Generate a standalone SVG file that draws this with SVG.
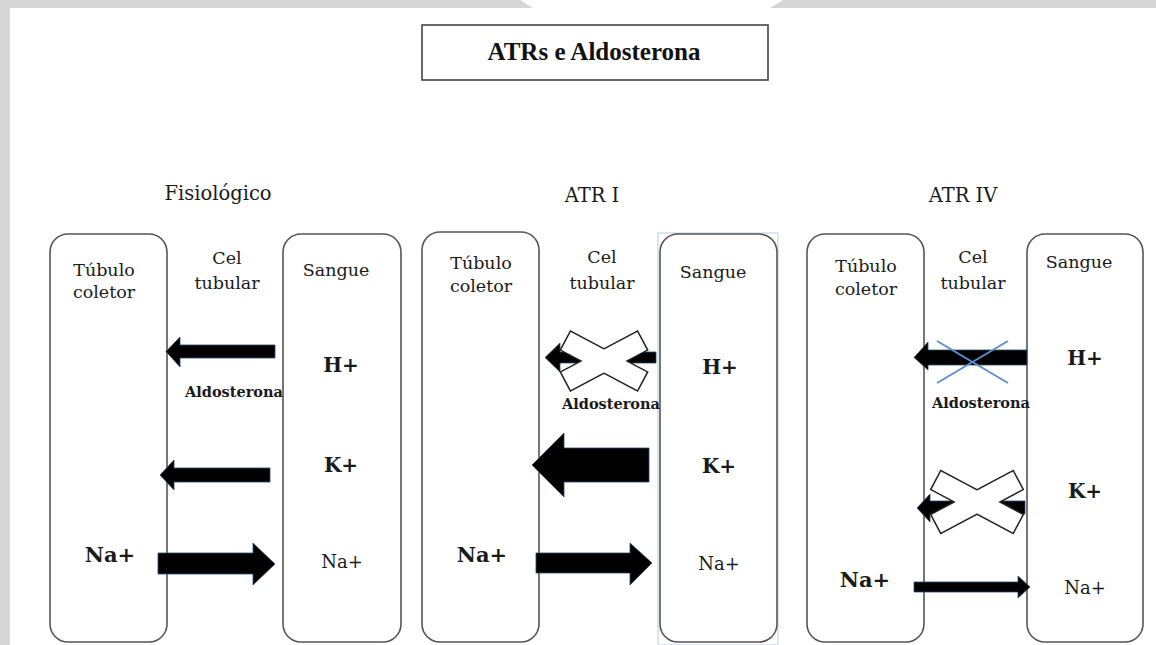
<svg xmlns="http://www.w3.org/2000/svg" width="1156" height="645" viewBox="0 0 1156 645">
<defs>
<style>
.frame{fill:#d6d6d6}
.box{fill:#fff;stroke:#555;stroke-width:1.6}
.t{font-family:"DejaVu Serif",serif;fill:#1a1a1a}
.lbl{font-size:17.5px;text-anchor:middle}
.head{font-size:19.5px;text-anchor:middle}
.ion{font-size:20px;font-weight:bold;text-anchor:middle}
.nab{font-size:21px;font-weight:bold;text-anchor:middle}
.nar{font-size:18px;text-anchor:middle}
.ald{font-size:14.5px;font-weight:bold;text-anchor:middle}
.arr{fill:#000;stroke:#2a4a70;stroke-width:0.8}
.xo{fill:#fff;stroke:#222;stroke-width:3}
.xi{fill:#fff}
.bx{stroke:#5b8fd0;stroke-width:2}
</style>
</defs>
<rect width="1156" height="645" fill="#fff"/>
<path class="frame" d="M0 0H520L533 8H770L783 0H1156V8H10V645H0Z"/>

<g id="title">
<rect x="422" y="25" width="346" height="55" fill="#fff" stroke="#444" stroke-width="1.6"/>
<text x="594" y="60" font-family="Liberation Serif, serif" font-size="25" font-weight="bold" fill="#111" text-anchor="middle">ATRs e Aldosterona</text>
</g>

<!-- Panel 1 -->
<g id="fisiologico">
<text class="t head" x="218" y="200">Fisiológico</text>
</g>
<g id="p1-tubulo">
<rect class="box" x="50" y="234" width="117" height="408" rx="18"/>
<text class="t lbl" x="104" y="276">Túbulo</text>
<text class="t lbl" x="104" y="298">coletor</text>
<text class="t nab" x="110" y="562">Na+</text>
</g>
<g id="p1-cel">
<text class="t lbl" x="227" y="264">Cel</text>
<text class="t lbl" x="227" y="289">tubular</text>
<text class="t ald" x="234" y="397">Aldosterona</text>
</g>
<g id="p1-sangue">
<rect class="box" x="283" y="234" width="118" height="408" rx="18"/>
<text class="t lbl" x="336" y="276">Sangue</text>
<text class="t ion" x="341" y="372">H+</text>
<text class="t ion" x="341" y="472">K+</text>
<text class="t nar" x="342" y="568">Na+</text>
</g>

<!-- Panel 2 -->
<g id="atr1">
<text class="t head" x="592" y="202">ATR I</text>
</g>
<g id="p2-tubulo">
<rect class="box" x="422" y="232" width="117" height="410" rx="18"/>
<text class="t lbl" x="481" y="269">Túbulo</text>
<text class="t lbl" x="481" y="292">coletor</text>
<text class="t nab" x="482" y="562">Na+</text>
</g>
<g id="p2-cel">
<text class="t lbl" x="602" y="263">Cel</text>
<text class="t lbl" x="602" y="289">tubular</text>
</g>
<g id="p2-sangue">
<rect x="658" y="233" width="120" height="412" fill="none" stroke="#b8cde8" stroke-width="1"/>
<rect class="box" x="660" y="234" width="117" height="408" rx="18"/>
<text class="t lbl" x="713" y="278">Sangue</text>
<text class="t ion" x="720" y="374">H+</text>
<text class="t ion" x="719" y="473">K+</text>
<text class="t nar" x="719" y="570">Na+</text>
</g>

<!-- Panel 3 -->
<g id="atr4">
<text class="t head" x="963" y="202">ATR IV</text>
</g>
<g id="p3-tubulo">
<rect class="box" x="807" y="234" width="117" height="408" rx="18"/>
<text class="t lbl" x="866" y="272">Túbulo</text>
<text class="t lbl" x="866" y="295">coletor</text>
<text class="t nab" x="865" y="587">Na+</text>
</g>
<g id="p3-cel">
<text class="t lbl" x="973" y="263">Cel</text>
<text class="t lbl" x="973" y="289">tubular</text>
</g>
<g id="p3-sangue">
<rect class="box" x="1027" y="234" width="116" height="408" rx="18"/>
<text class="t lbl" x="1079" y="268">Sangue</text>
<text class="t ion" x="1085" y="365">H+</text>
<text class="t ion" x="1085" y="498">K+</text>
<text class="t nar" x="1085" y="594">Na+</text>
</g>

<g id="connectors">
<!-- Panel 1 -->
<polygon class="arr" points="275,345 180,345 180,337 166,351.5 180,367 180,358 275,358"/>
<polygon class="arr" points="270,468 174,468 174,460 160,475 174,490 174,482 270,482"/>
<polygon class="arr" points="158,553 253,553 253,543 275,564 253,585 253,574 158,574"/>
<!-- Panel 2 -->
<polygon class="arr" points="656,352 560,352 560,343 545,357.5 560,372 560,363 656,363"/>
<polygon class="arr" points="649,448 564,448 564,433 532,465 564,497 564,482 649,482"/>
<polygon class="arr" points="536,553 630,553 630,543 652,563 630,585 630,573 536,573"/>
<!-- Panel 3 -->
<polygon class="arr" points="1027,350 928,350 928,342 914,357.5 928,370 928,365 1027,365"/>
<polygon class="arr" points="1025,501 930,501 930,494 917,508 930,522 930,514 1025,514"/>
<polygon class="arr" points="914,582 1018,582 1018,576 1030,587 1018,598 1018,592 914,592"/>
</g>

<g id="p2-x">
<g transform="translate(604,361)">
<rect class="xo" x="-43" y="-10" width="86" height="20" transform="rotate(28)"/>
<rect class="xo" x="-43" y="-10" width="86" height="20" transform="rotate(-28)"/>
<rect class="xi" x="-43" y="-10" width="86" height="20" transform="rotate(28)"/>
<rect class="xi" x="-43" y="-10" width="86" height="20" transform="rotate(-28)"/>
</g>
<text class="t ald" x="611" y="409">Aldosterona</text>
</g>

<g id="p3-x">
<line class="bx" x1="937" y1="341" x2="1008" y2="383"/>
<line class="bx" x1="937" y1="383" x2="1008" y2="341"/>
<text class="t ald" x="981" y="408">Aldosterona</text>
<g transform="translate(977,502)">
<rect class="xo" x="-46" y="-10" width="92" height="20" transform="rotate(28)"/>
<rect class="xo" x="-46" y="-10" width="92" height="20" transform="rotate(-28)"/>
<rect class="xi" x="-46" y="-10" width="92" height="20" transform="rotate(28)"/>
<rect class="xi" x="-46" y="-10" width="92" height="20" transform="rotate(-28)"/>
</g>
</g>
</svg>
